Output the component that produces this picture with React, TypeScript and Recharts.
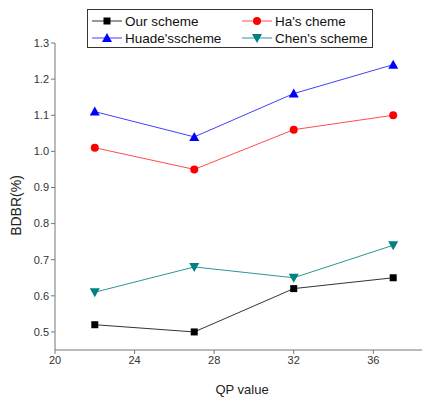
import React from 'react';
import { LineChart, Line, XAxis, YAxis } from 'recharts';

const qp = [22, 27, 32, 37];
const ourScheme = [0.52, 0.5, 0.62, 0.65];
const haScheme = [1.01, 0.95, 1.06, 1.1];
const huadeScheme = [1.11, 1.04, 1.16, 1.24];
const chenScheme = [0.61, 0.68, 0.65, 0.74];
const xTicks = [20, 24, 28, 32, 36];
const yTicks = [0.5, 0.6, 0.7, 0.8, 0.9, 1.0, 1.1, 1.2, 1.3];

const data = qp.map((q, i) => ({
  qp: q,
  our: ourScheme[i],
  ha: haScheme[i],
  huade: huadeScheme[i],
  chen: chenScheme[i],
}));

const seriesInfo = [
  { key: 'our', name: 'Our scheme', color: '#000000', line: '#333333', shape: 'square' },
  { key: 'ha', name: "Ha's cheme", color: '#ff0000', line: '#ff4d4d', shape: 'circle' },
  { key: 'huade', name: "Huade'sscheme", color: '#0000ff', line: '#4040ff', shape: 'triangle' },
  { key: 'chen', name: "Chen's scheme", color: '#008080', line: '#2a9696', shape: 'down' },
];

const FONT = 'Liberation Sans, Arial, sans-serif';

function Marker({ cx, cy, shape, color }: any) {
  if (cx == null || cy == null) return null;
  if (shape === 'square') return <rect x={cx - 3.5} y={cy - 3.5} width={7} height={7} fill={color} />;
  if (shape === 'circle') return <circle cx={cx} cy={cy} r={4} fill={color} />;
  if (shape === 'triangle')
    return <polygon points={`${cx},${cy - 5} ${cx - 5},${cy + 4} ${cx + 5},${cy + 4}`} fill={color} />;
  return <polygon points={`${cx},${cy + 5} ${cx - 5},${cy - 4} ${cx + 5},${cy - 4}`} fill={color} />;
}

function LegendBox() {
  const cols = [
    [seriesInfo[0], seriesInfo[2]],
    [seriesInfo[1], seriesInfo[3]],
  ];
  const colX = [5, 155];
  return (
    <svg width={286} height={39} style={{ display: 'block' }}>
      <rect x={0.5} y={0.5} width={285} height={38} fill="#fff" stroke="#333" strokeWidth={1} />
      {cols.map((col, ci) =>
        col.map((s, ri) => {
          const y = 12 + ri * 17;
          const x0 = colX[ci];
          return (
            <g key={s.key}>
              <line x1={x0} x2={x0 + 30} y1={y} y2={y} stroke={s.line} strokeWidth={1} />
              <Marker cx={x0 + 15} cy={y} shape={s.shape} color={s.color} />
              <text x={x0 + 33} y={y + 5} fontSize={13.5} fontFamily={FONT} fill="#111">
                {s.name}
              </text>
            </g>
          );
        })
      )}
    </svg>
  );
}

function YLabel(props: any) {
  const vb = props.viewBox || { x: 0, y: 0, width: 0, height: 0 };
  const x = vb.x + 1;
  const y = vb.y + vb.height / 2 + 9;
  return (
    <text
      x={x}
      y={y}
      transform={`rotate(-90 ${x} ${y})`}
      textAnchor="middle"
      dominantBaseline="central"
      fontSize={14}
      fontFamily={FONT}
      fill="#222"
    >
      BDBR(%)
    </text>
  );
}

export default function App() {
  return (
    <div style={{ position: 'relative', width: 422, height: 390 }}>
      <LineChart width={422} height={390} data={data} margin={{ top: 35, right: 1, bottom: 18, left: 7 }}>
        <XAxis
          dataKey="qp"
          type="number"
          domain={[20, 38.8]}
          ticks={xTicks}
          allowDataOverflow
          stroke="#777"
          tickSize={4}
          tick={{ fill: '#333', fontSize: 11, fontFamily: FONT }}
          height={30}
          label={{ value: 'QP value', position: 'insideBottom', offset: -14, fill: '#222', fontSize: 13, fontFamily: FONT }}
        />
        <YAxis
          type="number"
          domain={[0.45, 1.3]}
          ticks={yTicks}
          allowDataOverflow
          tickFormatter={(v: number) => v.toFixed(1)}
          stroke="#777"
          tickSize={4}
          width={40}
          tick={{ fill: '#333', fontSize: 11, fontFamily: FONT }}
          label={<YLabel />}
        />
        {seriesInfo.map((s) => (
          <Line
            key={s.key}
            dataKey={s.key}
            name={s.name}
            stroke={s.line}
            strokeWidth={1}
            isAnimationActive={false}
            dot={(p: any) => <Marker key={`${s.key}-${p.index}`} cx={p.cx} cy={p.cy} shape={s.shape} color={s.color} />}
            activeDot={false}
          />
        ))}
      </LineChart>
      <div style={{ position: 'absolute', left: 79, top: 1 }}>
        <LegendBox />
      </div>
    </div>
  );
}
